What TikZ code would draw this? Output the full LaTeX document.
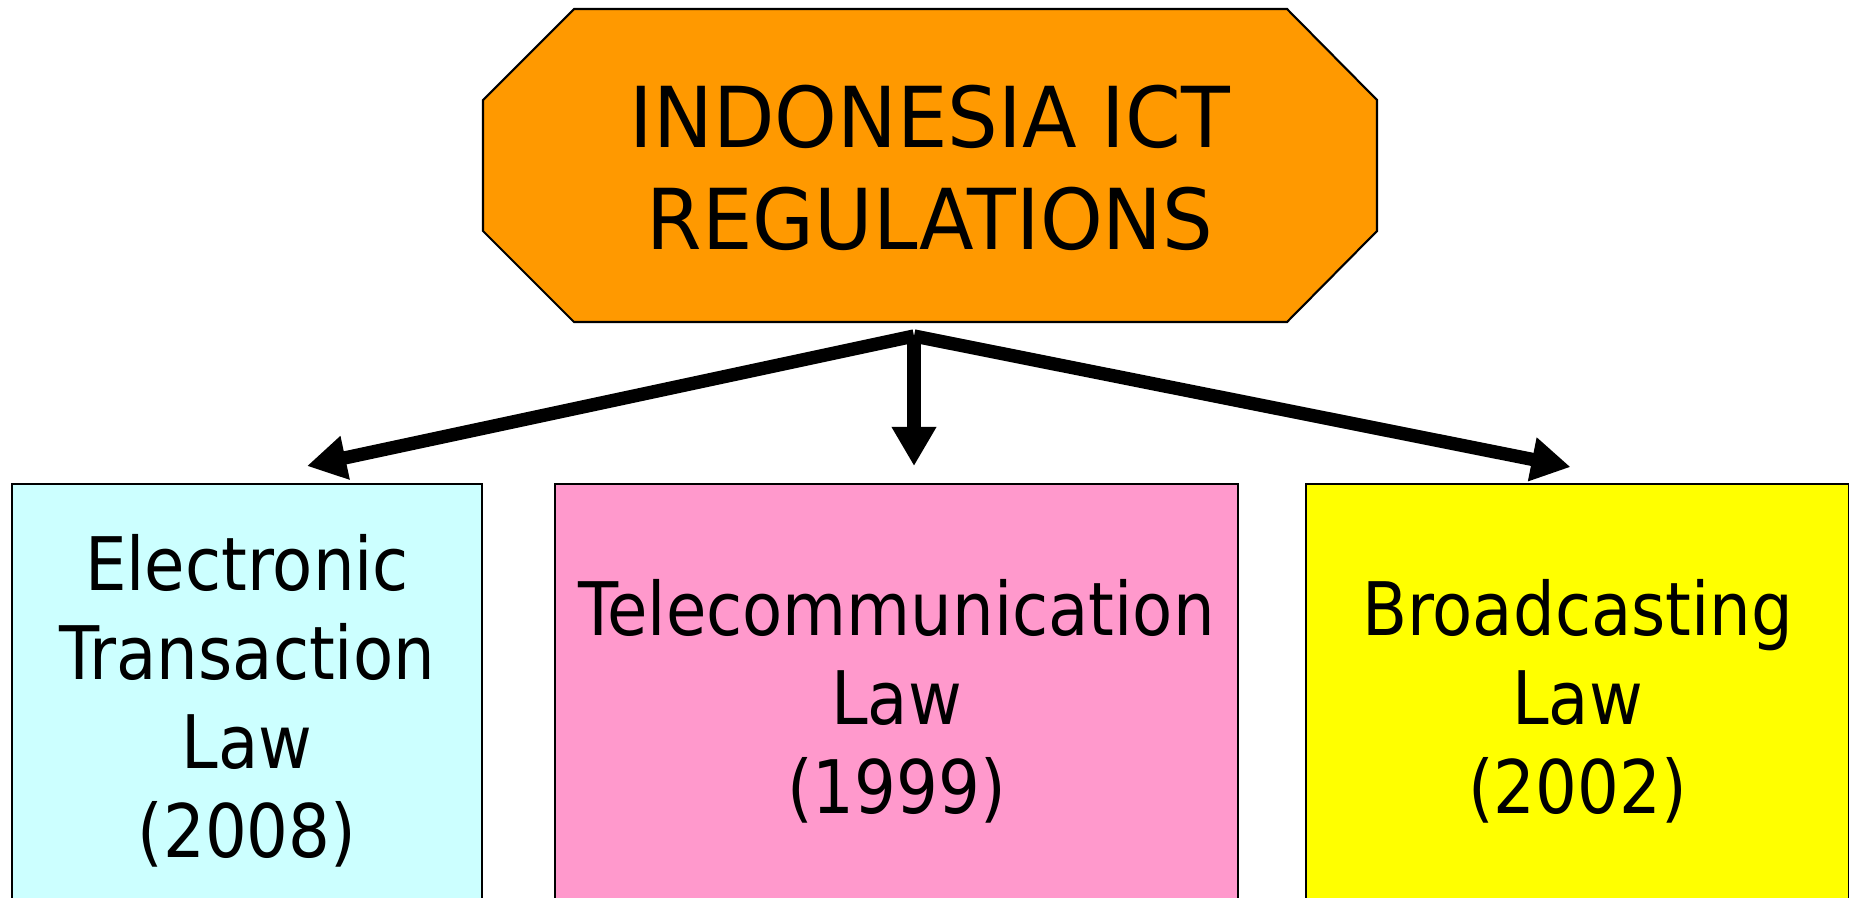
\documentclass[tikz,border=0pt]{standalone}
\usepackage{fontspec}
\setmainfont{DejaVu Sans}
\newfontfamily\headfont{DejaVu Sans}[FakeStretch=0.95]
\newfontfamily\lawfont{DejaVu Sans}[FakeStretch=0.89]
\usepackage{tikz}
\usetikzlibrary{positioning,arrows.meta,calc}

\definecolor{octorange}{HTML}{FF9900}
\definecolor{etlcyan}{HTML}{CCFFFF}
\definecolor{telpink}{HTML}{FF99CC}
\definecolor{bclyellow}{HTML}{FFFF00}

\tikzset{
	lawbox/.style={draw=black,line width=0.6pt,anchor=north,align=center,
		minimum width=4.7cm,minimum height=4.34cm,
		font=\lawfont\fontsize{21}{25.3}\selectfont},
	branch/.style={line width=3.8pt,-{Triangle[length=3.9mm,width=4.2mm]}}
}

\begin{document}
\begin{tikzpicture}[x=0.01cm,y=-0.01cm]
		\clip (0,0) rectangle (1849,897);
		\fill[white] (0,0) rectangle (1849,897);
		% top octagon
		\filldraw[fill=octorange,draw=black,line width=0.6pt] (574,9) -- (1287,9) -- (1377,100) -- (1377,231)
			-- (1287,322) -- (574,322) -- (483,231) -- (483,100) -- cycle;
		\node (ict) at (930,168) [align=center,font=\headfont\fontsize{23.9}{29.2}\selectfont] {INDONESIA ICT\\REGULATIONS};
		% the three laws
		\node (etl) [lawbox,fill=etlcyan] at (247,483) {Electronic\\Transaction\\Law\\(2008)};
		\node (tel) [lawbox,fill=telpink,minimum width=6.83cm] at (896.5,483) {Telecommunication\\Law\\(1999)};
		\node (bcl) [lawbox,fill=bclyellow,minimum width=5.43cm] at (1577.5,483) {Broadcasting\\Law\\(2002)};
		% arrows
		\coordinate (split) at (914,336);
		\draw[branch] (split) -- ($(etl.north)+(60,-17)$);
		\draw[branch] (split) -- ($(tel.north -| split)+(0,-17)$);
		\draw[branch] (split) -- ($(bcl.north)+(-7,-16)$);
	\end{tikzpicture}
\end{document}
